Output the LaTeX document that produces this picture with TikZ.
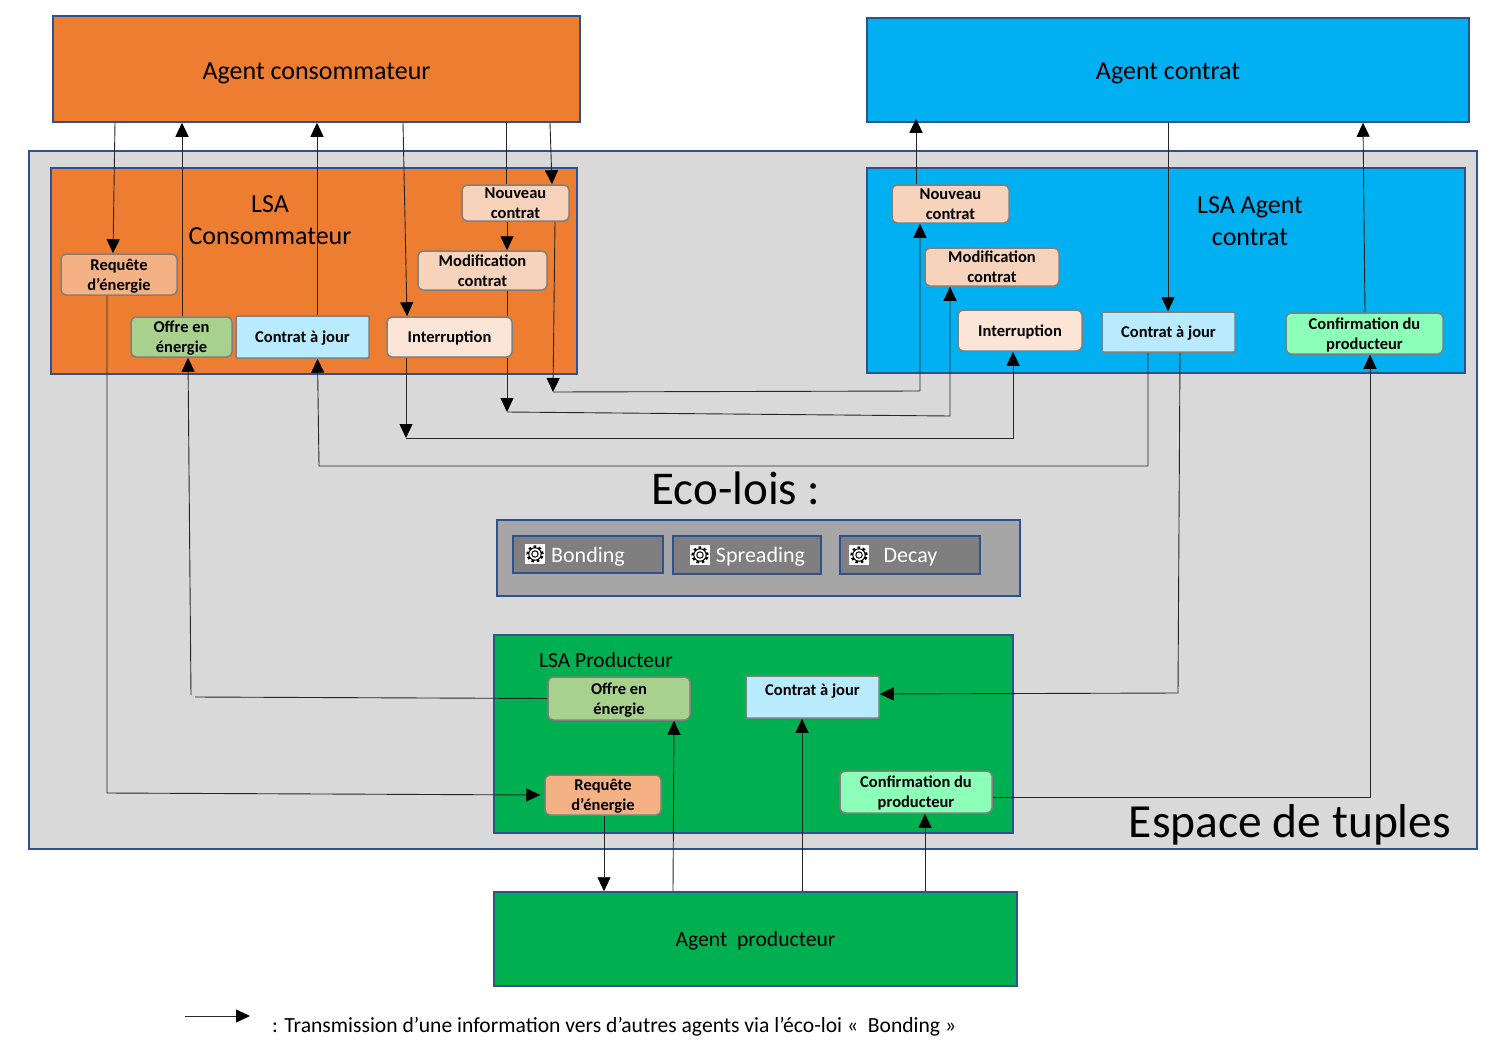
\documentclass[tikz,border=0pt]{standalone}
\usepackage{fontspec}
\setmainfont{Carlito}
\usetikzlibrary{arrows.meta}

\definecolor{bordure}{HTML}{2F528F}
\definecolor{orangeagent}{HTML}{ED7D31}
\definecolor{bleuagent}{HTML}{00B0F0}
\definecolor{vertagent}{HTML}{00B050}
\definecolor{fondespace}{HTML}{D9D9D9}
\definecolor{fondloi}{HTML}{A6A6A6}
\definecolor{fondbox}{HTML}{7F7F7F}
\definecolor{requetecol}{HTML}{F4B183}
\definecolor{nouveaucol}{HTML}{F8D3BC}
\definecolor{interrcol}{HTML}{FBE5D6}
\definecolor{contratcol}{HTML}{B9EBFF}
\definecolor{confirmcol}{HTML}{8CFFB9}
\definecolor{offrecol}{HTML}{A9D18E}

\tikzset{
	grandbloc/.style={shape=rectangle,draw=bordure,line width=1.5pt,inner sep=0pt,align=center,text depth=0pt,font=\fontsize{26}{32}\selectfont},
	petitbloc/.style={shape=rectangle,rounded corners=5pt,draw=fondbox,line width=1.5pt,inner sep=0pt,align=center,text depth=0pt,font=\fontsize{16.5}{20}\selectfont\bfseries},
	loibloc/.style={shape=rectangle,draw=bordure,fill=fondbox,text=white,line width=1.5pt,inner sep=0pt,text depth=0pt,font=\fontsize{22}{26}\selectfont},
	titre/.style={inner sep=0pt,align=center,text depth=0pt,font=\fontsize{26}{32}\selectfont},
	fleche/.style={-{Triangle[length=14pt,width=13pt,color=black]},line width=0.9pt,draw=black!85},
	ligne/.style={-,line width=0.9pt,draw=black!85},
	pics/engrenage/.style={code={
		\fill[white] (-10,-10) rectangle (10,10);
		\draw[black,line width=2.4pt,dash pattern=on 2.6pt off 2.6pt] (0,0) circle (7.4pt);
		\draw[black,line width=1pt] (0,0) circle (6.2pt);
		\draw[black,line width=1pt] (0,0) circle (3.2pt);
	}}
}

\begin{document}
\begin{tikzpicture}[x=1pt,y=-1pt]
	\useasboundingbox (0,0) rectangle (1502,1049);

	% les agents
	\node[grandbloc,fill=orangeagent,minimum width=527pt,minimum height=106pt] (agcons) at (316.5,69) {\raisebox{-4pt}{Agent consommateur}};
	\node[grandbloc,fill=bleuagent,minimum width=602pt,minimum height=104pt] (agcontrat) at (1168,70) {\raisebox{-2pt}{Agent contrat}};
	\node[grandbloc,fill=vertagent,minimum width=523pt,minimum height=94pt,font=\fontsize{21.6}{24}\selectfont] (agprod) at (755.5,939) {Agent~ producteur};

	% espace de tuples et LSA
	\node[grandbloc,fill=fondespace,minimum width=1448pt,minimum height=698pt] (espace) at (753,500) {};
	\node[grandbloc,fill=orangeagent,minimum width=526pt,minimum height=206pt] (lsacons) at (314,271) {};
	\node[grandbloc,fill=bleuagent,minimum width=598pt,minimum height=205pt] (lsacontrat) at (1166,270.5) {};
	\node[grandbloc,fill=vertagent,minimum width=519pt,minimum height=198pt] (lsaprod) at (753.5,734) {};

	\node[titre] (tcons) at (270,220.5) {LSA\\Consommateur};
	\node[titre] (tcontrat) at (1250,221) {LSA Agent\\contrat};
	\node[titre,font=\fontsize{21.5}{24}\selectfont] (tprod) at (606,660) {LSA Producteur};
	\node[titre,font=\fontsize{47}{50}\selectfont] (tlois) at (736,488.5) {Eco-lois :};
	\node[titre,font=\fontsize{47.5}{50}\selectfont] (tespace) at (1290,821) {Espace de tuples};

	% les eco-lois
	\node[grandbloc,fill=fondloi,minimum width=523pt,minimum height=76pt] (lois) at (758.5,558) {};
	\node[loibloc,minimum width=150pt,minimum height=37pt] (bonding) at (588,554.5) {Bonding};
	\node[loibloc,minimum width=148pt,minimum height=38pt] (spreading) at (747,555) {\hspace{27pt}Spreading};
	\node[loibloc,minimum width=140pt,minimum height=38pt] (decay) at (910,555) {\hspace{1pt}Decay};
	\pic at (535,554) {engrenage};
	\pic at (700,555) {engrenage};
	\pic at (859,555) {engrenage};

	% LSA consommateur
	\node[petitbloc,fill=nouveaucol,minimum width=107pt,minimum height=36pt] (nouvcons) at (515.5,203) {Nouveau\\contrat};
	\node[petitbloc,fill=nouveaucol,minimum width=129pt,minimum height=39pt] (modifcons) at (482.5,270.5) {Modification\\contrat};
	\node[petitbloc,fill=requetecol,minimum width=116pt,minimum height=41pt] (reqcons) at (119,274.5) {Requête\\d’énergie};
	\node[petitbloc,fill=offrecol,minimum width=101pt,minimum height=40pt] (offrecons) at (181.5,337) {Offre en\\énergie};
	\node[petitbloc,fill=contratcol,rounded corners=1pt,minimum width=133pt,minimum height=42pt] (majcons) at (302.5,337) {Contrat à jour};
	\node[petitbloc,fill=interrcol,minimum width=125pt,minimum height=40pt] (intcons) at (449.5,337) {Interruption};

	% LSA agent contrat
	\node[petitbloc,fill=nouveaucol,minimum width=117pt,minimum height=38pt] (nouvcontrat) at (950.5,204) {Nouveau\\contrat};
	\node[petitbloc,fill=nouveaucol,minimum width=134pt,minimum height=38pt] (modifcontrat) at (992,267) {Modification\\contrat};
	\node[petitbloc,fill=interrcol,minimum width=124pt,minimum height=41pt] (intcontrat) at (1020,330.5) {Interruption};
	\node[petitbloc,fill=contratcol,rounded corners=1pt,minimum width=133pt,minimum height=40pt] (majcontrat) at (1168.5,332) {Contrat à jour};
	\node[petitbloc,fill=confirmcol,minimum width=157pt,minimum height=41pt] (confcontrat) at (1364.5,333.5) {Confirmation du\\producteur};

	% LSA producteur
	\node[petitbloc,fill=offrecol,minimum width=142pt,minimum height=43pt] (offreprod) at (619,698.5) {Offre en\\énergie};
	\node[petitbloc,fill=contratcol,rounded corners=1pt,minimum width=133pt,minimum height=42pt] (majprod) at (812.5,697) {\raisebox{14pt}{Contrat à jour}};
	\node[petitbloc,fill=requetecol,minimum width=116pt,minimum height=40pt] (reqprod) at (603,795) {Requête\\d’énergie};
	\node[petitbloc,fill=confirmcol,minimum width=152pt,minimum height=42pt] (confprod) at (916,792) {Confirmation du\\producteur};

	% les coudes
	\coordinate (c1) at (553,392);
	\coordinate (c2) at (920,391);
	\coordinate (c3) at (507,412);
	\coordinate (c4) at (950,416);
	\coordinate (c5) at (406,438);
	\coordinate (c6) at (1013,438);
	\coordinate (c7) at (1148,466);
	\coordinate (c8) at (319,466);
	\coordinate (c9) at (1178,693);
	\coordinate (c10) at (195,697);
	\coordinate (c11) at (191,695);
	\coordinate (c12) at (107,793);
	\coordinate (c13) at (1370,797);
	\coordinate (legende1) at (185,1016);
	\coordinate (legende2) at (250,1016);

	% agent consommateur <-> LSA
	\draw[fleche] ([xshift=-201.5pt]agcons.south) -- ([xshift=-6pt]reqcons.north);
	\draw[fleche] ([xshift=0.5pt]offrecons.north) -- ([xshift=-134.5pt]agcons.south);
	\draw[fleche] ([xshift=14.5pt]majcons.north) -- ([xshift=0.5pt]agcons.south);
	\draw[fleche] ([xshift=86.5pt]agcons.south) -- ([xshift=-42.5pt]intcons.north);
	\draw[ligne] ([xshift=189.5pt]agcons.south) -- ([xshift=-9.5pt]nouvcons.north);
	\draw[fleche] ([xshift=-8.5pt]nouvcons.south) -- ([xshift=24.5pt]modifcons.north);
	\draw[fleche] ([xshift=233.5pt]agcons.south) -- ([xshift=36.5pt]nouvcons.north);

	% LSA consommateur -> LSA agent contrat
	\draw[fleche] ([xshift=39.5pt]nouvcons.south) -- (c1);
	\draw[fleche] (c1) -- (c2) -- ([xshift=-30.5pt]nouvcontrat.south);
	\draw[ligne] ([xshift=24.5pt]modifcons.south) -- ([xshift=57.5pt]intcons.north);
	\draw[fleche] ([xshift=57.5pt]intcons.south) -- (c3);
	\draw[fleche] (c3) -- (c4) -- ([xshift=-42pt]modifcontrat.south);
	\draw[fleche] ([xshift=-43.5pt]intcons.south) -- (c5);
	\draw[fleche] (c5) -- (c6) -- ([xshift=-7pt]intcontrat.south);
	\draw[fleche] ([xshift=-20.5pt]majcontrat.south) -- (c7) -- (c8) -- ([xshift=15pt]majcons.south);

	% agent contrat <-> LSA
	\draw[fleche] ([xshift=-34.5pt]nouvcontrat.north) -- ([xshift=-252pt,yshift=4pt]agcontrat.south);
	\draw[fleche] (agcontrat.south) -- ([xshift=-0.5pt]majcontrat.north);
	\draw[fleche] ([xshift=0.5pt]confcontrat.north) -- ([xshift=195pt]agcontrat.south);

	% LSA producteur <-> autres LSA
	\draw[fleche] ([xshift=11.5pt]majcontrat.south) -- (c9) -- ([yshift=3pt]majprod.east);
	\draw[ligne] (offreprod.west) -- (c10);
	\draw[fleche] (c11) -- ([xshift=6.5pt]offrecons.south);
	\draw[fleche] ([xshift=-12pt]reqcons.south) -- (c12) -- ([xshift=-4pt]reqprod.west);
	\draw[fleche] ([yshift=-5pt]confprod.east) -- (c13) -- ([xshift=5.5pt]confcontrat.south);

	% agent producteur <-> LSA
	\draw[fleche] ([xshift=1pt]reqprod.south) -- ([xshift=-151.5pt]agprod.north);
	\draw[fleche] ([xshift=-82.5pt]agprod.north) -- ([xshift=55pt]offreprod.south);
	\draw[fleche] ([xshift=46.5pt]agprod.north) -- ([xshift=-10.5pt]majprod.south);
	\draw[fleche] ([xshift=169.5pt]agprod.north) -- ([xshift=9pt]confprod.south);

	% legende
	\draw[fleche] (legende1) -- (legende2);
	\node[inner sep=0pt,anchor=west,text depth=0pt,font=\fontsize{21.6}{24}\selectfont] (legende) at (272,1025) {: Transmission d’une information vers d’autres agents via l’éco-loi «~ Bonding »};
\end{tikzpicture}
\end{document}
